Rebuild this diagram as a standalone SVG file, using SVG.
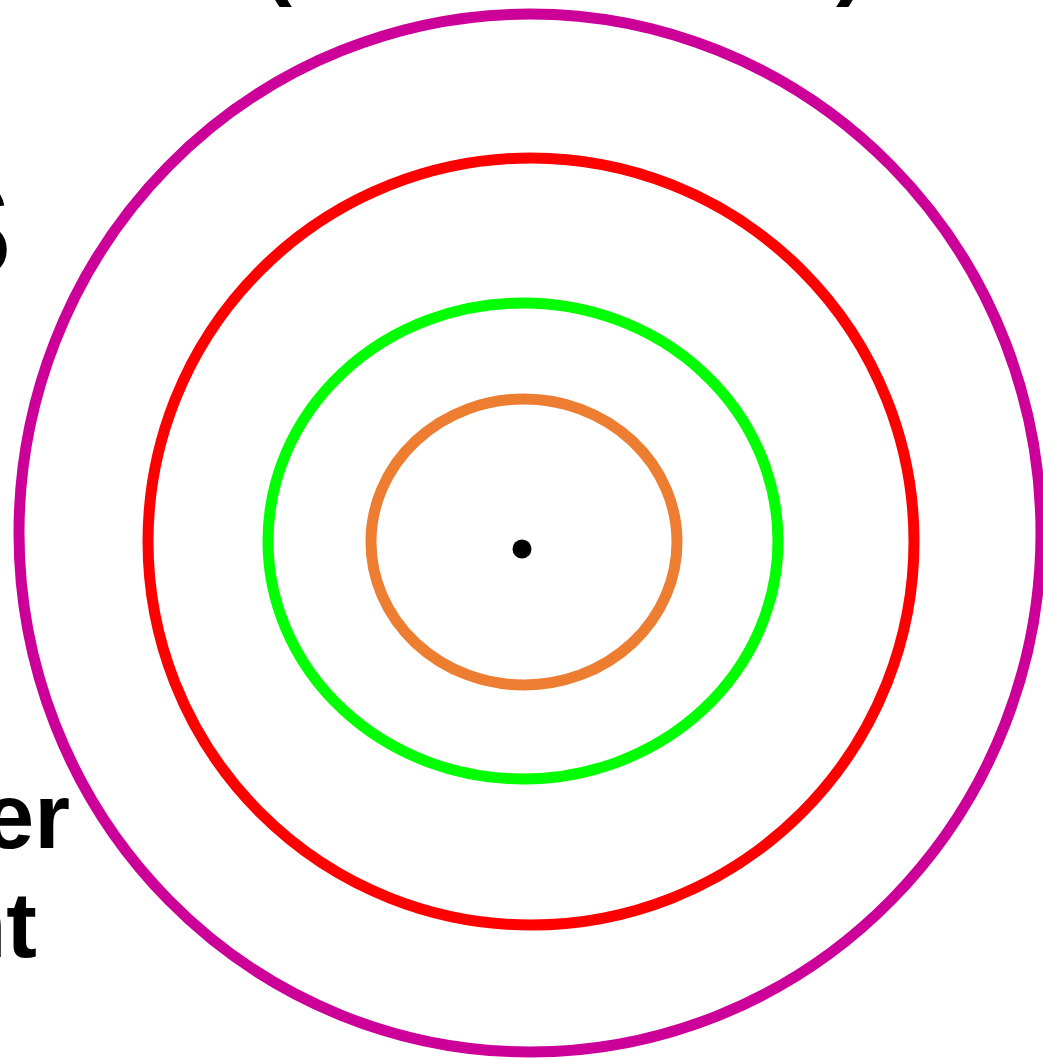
<svg xmlns="http://www.w3.org/2000/svg" width="1043" height="1059" viewBox="0 0 1043 1059">
<style>
.ring{fill:none;stroke-width:11}
.lbl{font-family:"Liberation Sans",Arial,sans-serif;font-weight:bold;fill:#000}
</style>
<rect width="1043" height="1059" fill="#fff"/>
<g id="ring-outer"><ellipse class="ring" cx="530" cy="533" rx="511" ry="519" stroke="#CC0099"/></g>
<g id="ring-red"><ellipse class="ring" cx="531" cy="541.5" rx="383" ry="383.5" stroke="#FF0000"/></g>
<g id="ring-green"><ellipse class="ring" cx="523" cy="541" rx="255" ry="238" stroke="#00FF00"/></g>
<g id="ring-orange"><ellipse class="ring" cx="524" cy="542" rx="153" ry="143" stroke="#ED7D31"/></g>
<g id="center"><circle cx="522" cy="549" r="9.5" fill="#000"/></g>
<g id="labels">
<text class="lbl" x="262" y="-12" font-size="90">(</text>
<text class="lbl" x="836" y="-12" font-size="90">)</text>
<text class="lbl" x="12" y="277" font-size="135" text-anchor="end">S</text>
<text class="lbl" x="70" y="848" font-size="92" text-anchor="end">er</text>
<text class="lbl" x="37" y="957" font-size="92" text-anchor="end">nt</text>
</g>
</svg>
